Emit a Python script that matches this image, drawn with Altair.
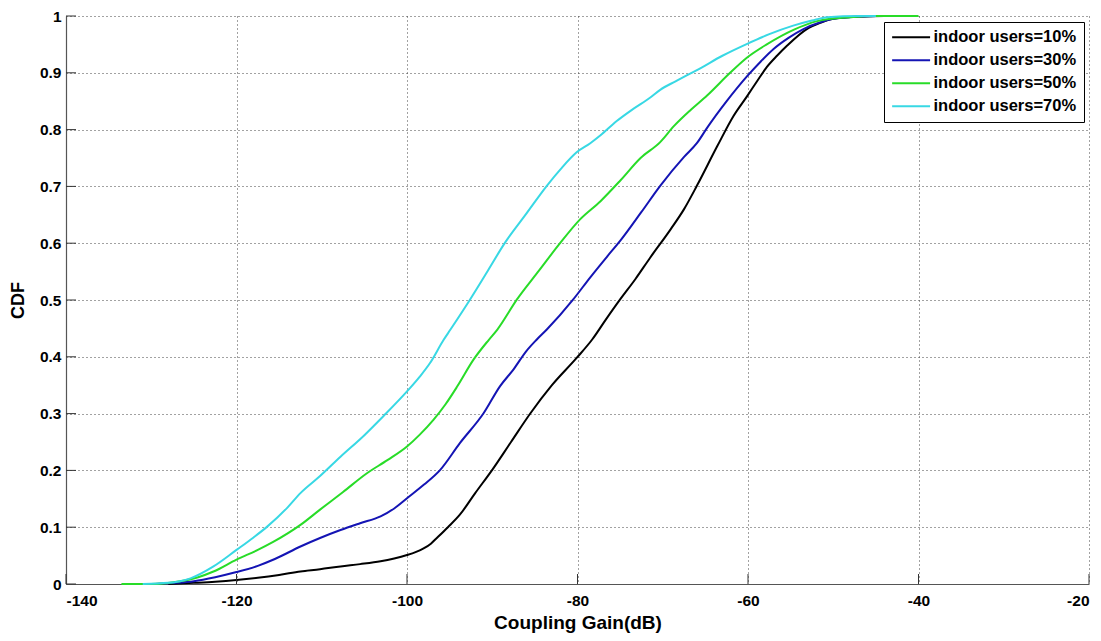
import altair as alt
import pandas as pd

labels = ["indoor users=10%", "indoor users=30%", "indoor users=50%", "indoor users=70%"]
colors = ["#000000", "#1414b4", "#28dc28", "#38d8e4"]

x10 = [-128, -125, -122.5, -120, -117.5, -115, -112.5, -110.2, -107.8, -105.5, -103.1, -101.5, -100,
       -99, -98, -97.2, -96.5, -95.2, -93.8, -92, -90.0, -87.8, -85.5, -83, -80.1, -78.3, -76.7,
       -75.0, -73.2, -71.5, -69.1, -67.5, -66.0, -63.6, -61.7, -60.1, -58.9, -57.8, -56.6, -55.4,
       -53.1, -51.5, -50, -47, -44]
y10 = [0, 0.002, 0.004, 0.007, 0.011, 0.016, 0.022, 0.026, 0.031, 0.035, 0.040, 0.045, 0.051,
       0.056, 0.063, 0.071, 0.081, 0.100, 0.122, 0.160, 0.201, 0.250, 0.301, 0.350, 0.398, 0.430, 0.465,
       0.501, 0.537, 0.574, 0.624, 0.660, 0.701, 0.771, 0.824, 0.859, 0.886, 0.910, 0.930, 0.948,
       0.977, 0.988, 0.995, 0.999, 1.0]

x30 = [-129.5, -127, -125, -122.5, -120, -117.5, -115.5, -112.5, -110.2, -107.8, -105.5, -103.1,
       -101.5, -100, -98, -96.1, -93.8, -91.0, -89.1, -87.5, -86, -84.8, -83.6, -80.5, -78.5, -76.5,
       -75.0, -72.5, -70.3, -67.5, -66.0, -64.8, -62.5, -60.1, -58.5, -57.0, -55.2, -53.5, -51.5, -50,
       -47, -45]
y30 = [0, 0.002, 0.005, 0.012, 0.021, 0.032, 0.044, 0.066, 0.081, 0.095, 0.107, 0.119,
       0.133, 0.151, 0.175, 0.201, 0.248, 0.301, 0.348, 0.378, 0.410, 0.430, 0.448, 0.501, 0.540, 0.577,
       0.604, 0.655, 0.701, 0.752, 0.776, 0.803, 0.850, 0.894, 0.920, 0.942, 0.962, 0.977, 0.989, 0.995,
       0.999, 1.0]

x50 = [-133.5, -130, -127, -124.5, -122.7, -120, -117.5, -115.7, -112.5, -110.2, -107.5, -104.7,
       -102.3, -100, -98.5, -96.9, -95.5, -94.1, -92.2, -90.4, -89.4, -87.1, -84.5, -82.0, -79.7,
       -77.3, -75.0, -72.6, -70.3, -68.7, -66.7, -64.8, -62.1, -60.1, -57.8, -54.6, -51.9, -48, -45, -40]
y50 = [0, 0, 0.004, 0.012, 0.022, 0.043, 0.060, 0.074, 0.104, 0.131, 0.162, 0.195,
       0.218, 0.242, 0.263, 0.289, 0.316, 0.348, 0.395, 0.430, 0.448, 0.501, 0.552, 0.601, 0.642,
       0.674, 0.710, 0.750, 0.778, 0.806, 0.835, 0.860, 0.900, 0.927, 0.950, 0.976, 0.991, 0.998, 1.0, 1.0]

x70 = [-131, -128, -125.4, -122.7, -120, -118, -116.4, -114, -112.5, -110.2, -107.8, -105, -102.8,
       -100, -98.5, -97.3, -95.7, -94.9, -92.6, -90.5, -88.5, -86, -83.6, -82, -80.1, -78.5, -77.3,
       -75.4, -73.5, -71.5, -70.3, -68.5, -65.6, -63, -60.1, -57.5, -54.7, -52.5, -50.7, -47, -45]
y70 = [0, 0.002, 0.010, 0.031, 0.060, 0.082, 0.101, 0.135, 0.160, 0.190, 0.224, 0.262, 0.295,
       0.339, 0.365, 0.389, 0.430, 0.448, 0.501, 0.552, 0.601, 0.652, 0.701, 0.730, 0.760, 0.776, 0.790,
       0.815, 0.836, 0.856, 0.870, 0.885, 0.908, 0.930, 0.951, 0.968, 0.983, 0.992, 0.998, 1.0, 1.0]

x_ticks = [-140, -120, -100, -80, -60, -40, -20]
y_ticks = [0, 0.1, 0.2, 0.3, 0.4, 0.5, 0.6, 0.7, 0.8, 0.9, 1]

rows = []
for lab, xs, ys in zip(labels, [x10, x30, x50, x70], [y10, y30, y50, y70]):
    for i, (a, b) in enumerate(zip(xs, ys)):
        rows.append({"series": lab, "gain": a, "cdf": b, "i": i})
df = pd.DataFrame(rows)

FONT = "Liberation Sans"
W, H = 1023, 568

xscale = alt.Scale(domain=[-140, -20], nice=False, zero=False)
yscale = alt.Scale(domain=[0, 1], nice=False)
xaxis = alt.Axis(values=x_ticks, labelExpr="'' + datum.value", grid=True)
yaxis = alt.Axis(values=y_ticks, format="~g", grid=True)
XT = "Coupling Gain(dB)"
YT = "CDF"

lines = alt.Chart(df).mark_line(strokeWidth=2, interpolate="monotone").encode(
    x=alt.X("gain:Q", scale=xscale, title=XT, axis=xaxis),
    y=alt.Y("cdf:Q", scale=yscale, title=YT, axis=yaxis),
    color=alt.Color("series:N", scale=alt.Scale(domain=labels, range=colors),
                    legend=alt.Legend(title=None, orient="none", legendX=818, legendY=6,
                                      symbolType="M-1.5,0H6.5", symbolSize=90,
                                      symbolStrokeWidth=2, labelOffset=26,
                                      padding=7, rowPadding=6,
                                      strokeColor="black", fillColor="white",
                                      labelFont=FONT, labelFontSize=16.5,
                                      labelFontWeight="bold", labelColor="black")),
    order="i:Q",
)

xt = alt.Chart(pd.DataFrame({"gain": x_ticks})).mark_rule(color="#333", strokeWidth=1).encode(
    x=alt.X("gain:Q", scale=xscale, title=XT, axis=xaxis), y=alt.value(H), y2=alt.value(H - 10))
yt = alt.Chart(pd.DataFrame({"cdf": y_ticks})).mark_rule(color="#333", strokeWidth=1).encode(
    y=alt.Y("cdf:Q", scale=yscale, title=YT, axis=yaxis), x=alt.value(0), x2=alt.value(10))

chart = alt.layer(lines, xt, yt).properties(
    width=W, height=H,
    autosize=alt.AutoSizeParams(type="none"),
    padding={"left": 66, "top": 16, "right": 12, "bottom": 57},
    background="white",
).configure_view(stroke=None).configure_axis(
    domainColor="#555", domainWidth=1.2, ticks=False,
    gridColor="#444", gridDash=[1, 3], gridWidth=1, gridOpacity=1,
    labelFont=FONT, labelFontSize=15.5, labelFontWeight="bold", labelColor="black",
    titleFont=FONT, titleFontWeight="bold", titleColor="black",
).configure_axisX(
    labelPadding=9, titleFontSize=19, titlePadding=5,
).configure_axisY(
    labelPadding=5, titleFontSize=18, titlePadding=12,
)

chart.save("out.html", embed_options={"renderer": "svg", "actions": False})
